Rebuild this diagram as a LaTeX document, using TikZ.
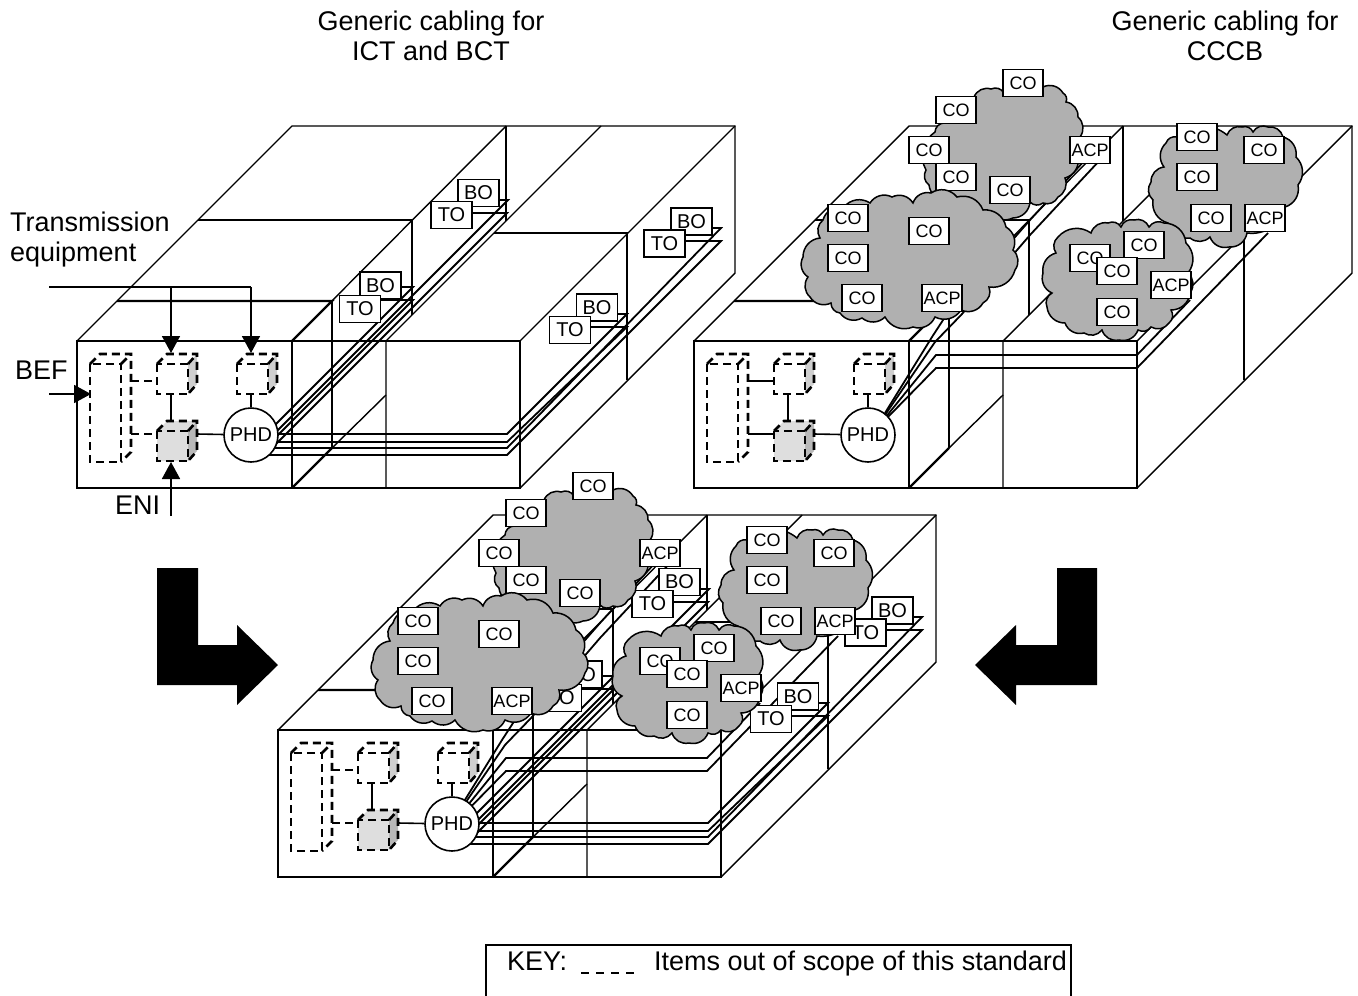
\documentclass[tikz,border=0pt]{standalone}
\usepackage{fontspec}
\setmainfont{Liberation Sans}
\usetikzlibrary{arrows.meta}
\newcommand{\fs}[1]{\fontsize{#1}{#1}\selectfont}
\tikzset{
  wall/.style={line width=1.4pt,line join=miter},
  thickwall/.style={line width=2.2pt,line join=miter},
  cable/.style={line width=1.8pt,line join=miter},
  link/.style={line width=1.6pt},
  dsh/.style={line width=2.6pt,dash pattern=on 8pt off 5pt},
  keydsh/.style={line width=2.6pt,dash pattern=on 8pt off 7pt},
  lbl/.style={font=\fs{27},anchor=base,inner sep=0pt},
  outlet/.style={draw,fill=white,line width=1.4pt,minimum width=41pt,minimum height=27pt,inner sep=0pt,font=\fs{20}},
  cobox/.style={draw,fill=white,line width=1.4pt,minimum width=40pt,minimum height=27pt,inner sep=0pt,font=\fs{18}},
  phdnode/.style={circle,draw,fill=white,line width=1.6pt,minimum size=54pt,inner sep=0pt,font=\fs{20}},
  cloudy/.style={draw=black,fill=cloudgray,line width=1.5pt,line join=miter},
  sc/.style={bend left=42,looseness=1},
  tip/.style={-{Triangle[length=17pt,width=18pt]},link},
  block/.style={fill=black,draw=none}
}
\definecolor{cloudgray}{HTML}{B0B0B0}
\definecolor{facelight}{HTML}{DEDEDE}
\definecolor{sidemid}{HTML}{CFCFCF}
\definecolor{sidedark}{HTML}{B8B8B8}
% walls of one building
\newcommand{\bldg}{%
  \draw[wall] (292,341)--(520,341)--(520,488)--(292,488);
  \draw[wall] (77,341)--(292,126)--(735,126)--(735,273)--(520,488);
  \draw[wall] (735,126)--(520,341);
  \draw[wall] (506,126)--(292,341);
  \draw[wall] (198,220)--(412,220)--(412,315);
  \draw[thickwall] (117,301)--(332,301)--(292,341);
  \draw[thickwall] (332,301)--(332,448);
  \draw[wall] (506,126)--(506,221);
  \draw[wall] (601,126)--(386,341)--(386,488);
  \draw[wall] (494,233)--(627,233)--(627,380);
  \draw[wall] (386,395)--(332,448);
  \draw[thickwall] (332,448)--(292,488);
  \draw[thickwall] (77,341) rectangle (292,488);
}
% dashed cube: #1,#2 front top-left; #3 front fill; #4 side fill
\newcommand{\dcube}[4]{%
  \fill[#3] (#1,#2)--(#1+10,#2-10)--(#1+40,#2-10)--(#1+31,#2)--(#1+31,#2+30)--(#1,#2+30)--cycle;
  \fill[#4] (#1+31,#2)--(#1+40,#2-10)--(#1+40,#2+20)--(#1+31,#2+30)--cycle;
  \draw[dsh] (#1,#2) rectangle (#1+31,#2+30);
  \draw[dsh] (#1,#2)--(#1+10,#2-10)--(#1+40,#2-10)--(#1+40,#2+20)--(#1+31,#2+30);
  \draw[dsh] (#1+31,#2)--(#1+40,#2-10);
}
% equipment room: #1 prefix, #2 style of rack links
\newcommand{\equip}[2]{%
  \draw[dsh] (90,364) rectangle (121,462);
  \draw[dsh] (90,364)--(100,354)--(131,354)--(131,452)--(121,462);
  \draw[dsh] (121,364)--(131,354);
  \dcube{157}{364}{white}{sidemid}
  \dcube{237}{364}{white}{sidemid}
  \dcube{157}{431}{facelight}{sidedark}
  \draw[#2] (131,381)--(157,381);
  \draw[#2] (131,434)--(157,434);
  \draw[link] (171,394)--(171,421);
  \coordinate (#1c3) at (197,434);
  \coordinate (#1c2) at (251,394);
  \node[phdnode] (#1PHD) at (251,435) {PHD};
  \draw[link] (#1c3)--(#1PHD);
  \draw[link] (#1c2)--(#1PHD);
}
% horizontal/diagonal copper cables with BO and TO
\newcommand{\groupone}[1]{%
  \draw[cable] (255,434)--(507,434)--(627,314)--(617,314);
  \draw[cable] (255,442)--(507,442)--(627,327)--(590,327);
  \draw[cable] (255,448)--(507,448)--(721,228)--(712,228);
  \draw[cable] (255,455)--(507,455)--(721,241)--(685,241);
  \draw[cable] (270,430)--(413,287)--(401,287);
  \draw[cable] (270,443)--(413,300)--(380,300);
  \draw[cable] (270,438)--(508,200)--(498,200);
  \draw[cable] (270,450)--(507,213)--(472,213);
  \node[outlet] (#1bo1) at (478.5,193) {BO};
  \node[outlet] (#1to1) at (451.5,215) {TO};
  \node[outlet] (#1bo2) at (380.5,285.5) {BO};
  \node[outlet] (#1to2) at (360,309) {TO};
  \node[outlet] (#1bo3) at (691.5,221.5) {BO};
  \node[outlet] (#1to3) at (664.5,243.5) {TO};
  \node[outlet] (#1bo4) at (597,307.5) {BO};
  \node[outlet] (#1to4) at (570,330) {TO};
}
% fibre runs, in the frame of the upper right building
\newcommand{\grouptwo}{%
  \draw[cable] (885,413)--(932,337)--(945,317)--(1030,220)--(1085,160);
  \draw[cable] (885,415)--(935,342)--(962,314)--(1030,235)--(1100,160);
  \draw[cable] (885,418)--(936,355)--(1137,355)--(1190,300);
  \draw[cable] (885,420)--(936,368)--(1137,368)--(1268,233);
}
\newcommand{\drawcloud}[2]{%
  \gdef\cloudtmp{}%
  \foreach \p in {#2}{\xdef\cloudtmp{\cloudtmp to[sc] \p}}%
  \edef\cloudcmd{\noexpand\path[cloudy] #1 \cloudtmp -- cycle;}%
  \cloudcmd
}
% all four clouds with their boxes
\newcommand{\clouds}[1]{%
  \drawcloud{(1043,87)}{(1063,93),(1066,102),(1078,117),(1080,137),(1078,157),(1065,178),(1058,197),(1043,203),(1030,202),(1013,218),(987,210),(965,212),(946,200),(929,185),(926,170),(935,132),(944,123),(974,97),(991,89),(1004,93),(1043,87)}
  \node[cobox] (#1a1) at (1023,83) {CO};
  \node[cobox] (#1a2) at (956,110) {CO};
  \node[cobox] (#1a3) at (929,150) {CO};
  \node[cobox] (#1a4) at (956,177) {CO};
  \node[cobox] (#1a5) at (1010,190) {CO};
  \node[cobox] (#1a6) at (1090,150) {ACP};
  \drawcloud{(844,207)}{(870,203),(892,197),(913,203),(931,193),(957,197),(983,210),(1006,227),(1013,250),(1015,270),(989,287),(983,303),(961,310),(935,317),(913,327),(885,317),(862,318),(840,313),(831,303),(810,297),(808,277),(803,257),(820,238),(823,220),(844,207)}
  \node[cobox] (#1b1) at (848,218) {CO};
  \node[cobox] (#1b2) at (929,231) {CO};
  \node[cobox] (#1b3) at (848,258) {CO};
  \node[cobox] (#1b4) at (862,298) {CO};
  \node[cobox] (#1b5) at (942,298) {ACP};
  \drawcloud{(1227,135)}{(1242,127),(1253,132),(1268,127),(1283,137),(1296,157),(1298,185),(1285,207),(1247,233),(1229,247),(1210,237),(1190,238),(1168,223),(1153,200),(1151,182),(1164,167),(1166,143),(1177,137),(1227,135)}
  \node[cobox] (#1c1) at (1197,137) {CO};
  \node[cobox] (#1c2) at (1264,150) {CO};
  \node[cobox] (#1c3) at (1197,177) {CO};
  \node[cobox] (#1c4) at (1211,218) {CO};
  \node[cobox] (#1c5) at (1265,218) {ACP};
  \drawcloud{(1091,233)}{(1108,223),(1121,227),(1134,220),(1149,227),(1164,223),(1186,243),(1188,273),(1190,293),(1171,310),(1169,323),(1151,327),(1138,330),(1119,340),(1102,330),(1084,333),(1065,323),(1047,307),(1052,293),(1043,273),(1056,253),(1058,237),(1091,233)}
  \node[cobox] (#1d1) at (1090,258) {CO};
  \node[cobox] (#1d2) at (1144,245) {CO};
  \node[cobox] (#1d3) at (1117,271) {CO};
  \node[cobox] (#1d4) at (1117,312) {CO};
  \node[cobox] (#1d5) at (1171,285) {ACP};
}
\begin{document}
\begin{tikzpicture}[x=1pt,y=-1pt]
\path[use as bounding box] (0,0) rectangle (1358,996);
% titles
\node[lbl] (t1) at (431,30) {Generic cabling for};
\node[lbl] (t2) at (431,60) {ICT and BCT};
\node[lbl] (t3) at (1225,30) {Generic cabling for};
\node[lbl] (t4) at (1225,60) {CCCB};
\node[lbl,anchor=base west] (t5) at (10,231) {Transmission};
\node[lbl,anchor=base west] (t6) at (10,261) {equipment};
\node[lbl,anchor=base west] (t7) at (15,379) {BEF};
\node[lbl,anchor=base west] (t8) at (115,514) {ENI};
% building 1
\bldg
\groupone{p}
\equip{p}{dsh}
\coordinate (txa) at (49,287);
\coordinate (txb) at (171,287);
\coordinate (txc) at (251,287);
\coordinate (c1in) at (171,353);
\coordinate (c2in) at (251,353);
\draw[link] (txa)--(txc);
\draw[tip] (txb)--(c1in);
\draw[tip] (txc)--(c2in);
\coordinate (befa) at (49,394);
\coordinate (befb) at (91,394);
\draw[tip] (befa)--(befb);
\coordinate (enia) at (171,516);
\coordinate (enib) at (171,462);
\draw[tip] (enia)--(enib);
% building 2
\begin{scope}[shift={(617,0)}]
  \bldg
\end{scope}
\grouptwo
\begin{scope}[shift={(617,0)}]
  \equip{q}{link}
\end{scope}
\clouds{q}
% building 3
\begin{scope}[shift={(201,389)}]
  \bldg
\end{scope}
\begin{scope}[shift={(-430,403)}]
  \grouptwo
\end{scope}
\begin{scope}[shift={(201,389)}]
  \groupone{r}
  \equip{r}{dsh}
\end{scope}
\begin{scope}[shift={(-430,403)}]
  \clouds{s}
\end{scope}
% block arrows
\fill[block] (157,568)--(198,568)--(198,645)--(237,645)--(237,625)--(278,665)--(237,705)--(237,685)--(157,685)--cycle;
\fill[block] (1097,568)--(1057,568)--(1057,645)--(1016,645)--(1016,625)--(975,665)--(1016,705)--(1016,685)--(1097,685)--cycle;
% key
\coordinate (ka) at (486,996);
\coordinate (kb) at (486,945);
\coordinate (kc) at (1071,945);
\coordinate (kd) at (1071,996);
\draw[thickwall] (ka)--(kb)--(kc)--(kd);
\node[lbl,anchor=base west] (k1) at (507,970) {KEY:};
\coordinate (kda) at (581,973);
\coordinate (kdb) at (636,973);
\draw[keydsh] (kda)--(kdb);
\node[lbl,anchor=base west] (k2) at (654,970) {Items out of scope of this standard};
\end{tikzpicture}
\end{document}
